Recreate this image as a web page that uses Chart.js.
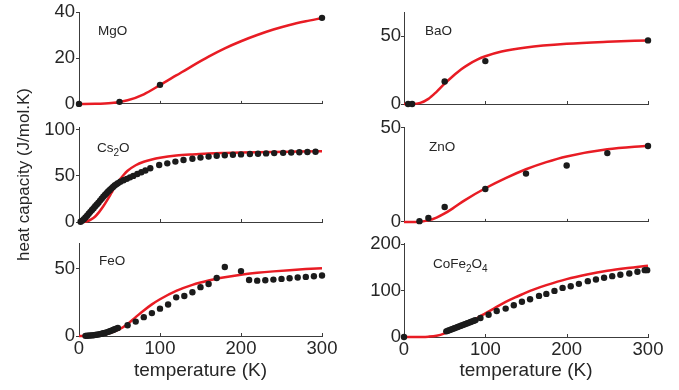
<!DOCTYPE html>
<html lang="en">
<head>
<meta charset="UTF-8">
<title>Heat capacity of oxides</title>
<script src="https://cdn.jsdelivr.net/npm/chart.js"></script>
<style>
  body { margin: 0; background: #fff; }
  #wrap { position: relative; width: 679px; height: 390px; overflow: hidden; }
  #wrap canvas { position: absolute; }
</style>
</head>
<body>
<div id="wrap">
  <canvas id="c-mgo" width="340" height="116" style="left:0;top:0"></canvas>
  <canvas id="c-bao" width="339" height="116" style="left:340px;top:0"></canvas>
  <canvas id="c-zno" width="339" height="118" style="left:340px;top:115px"></canvas>
  <canvas id="c-feo" width="340" height="159" style="left:0;top:231px"></canvas>
  <canvas id="c-cofe" width="339" height="159" style="left:340px;top:231px"></canvas>
  <canvas id="c-cs2o" width="340" height="240" style="left:0;top:60px"></canvas>
</div>
<script>
// values: T in K, heat capacity in J/mol.K
const tempTicks = [0, 100, 200, 300];

const mgoT = [0, 50, 100, 300];
const mgoCp = [0, 0.9, 8.3, 37.5];
const mgoFitT = [0, 20, 40, 60, 80, 100, 120, 140, 160, 180, 200, 220, 240, 260, 280, 300];
const mgoFit = [0, 0.05, 0.4, 1.6, 4.2, 8.2, 12.4, 16.6, 20.6, 24.2, 27.3, 30.0, 32.4, 34.4, 36.0, 37.4];
const mgoTicks = [0, 20, 40];

const baoT = [5, 10, 50, 100, 300];
const baoCp = [0, 0, 16.6, 31.7, 47];
const baoFitT = [0, 10, 20, 30, 40, 50, 60, 70, 80, 90, 100, 120, 150, 200, 250, 300];
const baoFit = [0, 0.05, 0.8, 3.8, 9, 15, 20.5, 25.5, 29.5, 32.8, 35.3, 38.8, 41.8, 44.5, 46, 47];
const baoTicks = [0, 50];

const cs2oT = [2, 4, 6, 8, 10, 12, 14, 16, 18, 20, 22, 24, 26, 28, 30, 32, 34, 36, 38, 40, 42, 44, 46, 48,
  51, 55, 59, 63, 67, 72, 77, 82, 88,
  99, 109, 119, 129, 140, 150, 160, 170, 180, 190, 200, 211, 221, 231, 241, 252, 262, 272, 282, 292];
const cs2oCp = [0.3, 1.5, 3, 4.8, 6.8, 9, 11, 13, 15, 17, 19, 21, 23.2, 25.3, 27.3, 29.3, 31.2, 33, 34.8, 36.5, 38, 39.5, 40.8, 42,
  43.6, 45.2, 46.8, 48.4, 50, 52, 54, 55.8, 58.2,
  61.8, 63.6, 65.5, 67.3, 68.6, 69.8, 70.9, 71.8, 72.4, 72.9, 73.3, 73.7, 74.0, 74.4, 74.7, 75.0, 75.3, 75.6, 75.9, 76.2];
const cs2oFitT = [0, 5, 10, 15, 20, 25, 30, 35, 40, 45, 50, 55, 60, 70, 80, 90, 100, 120, 140, 160, 180, 200, 240, 270, 300];
const cs2oFit = [0, 0.1, 0.8, 2.8, 6, 11, 17, 24, 31.5, 39, 45.5, 51, 55.5, 61.5, 65.3, 67.8, 69.6, 72, 73.3, 74.2, 74.8, 75.3, 76, 76.4, 76.8];
const cs2oTicks = [0, 50, 100];

const znoT = [19, 30, 50, 100, 150, 200, 250, 300];
const znoCp = [0.4, 2.1, 7.9, 17.5, 25.7, 30, 36.6, 40.4];
const znoFitT = [0, 10, 20, 30, 40, 50, 60, 75, 100, 125, 150, 175, 200, 250, 300];
const znoFit = [0, 0, 0.1, 0.8, 2.3, 4.5, 7.2, 11.6, 17.9, 23.3, 28.0, 31.8, 34.8, 38.6, 40.5];
const znoTicks = [0, 50];

const feoT = [8, 10, 12, 14, 16, 18, 20, 22, 24, 26, 28, 30, 32, 34, 36, 38, 40, 42, 44, 46, 48,
  60, 70, 80, 90, 100, 110, 120, 130, 140, 150, 160, 170, 180, 200, 210, 220, 230, 240, 250, 260, 270, 280, 290, 300];
const feoCp = [0.1, 0.2, 0.3, 0.4, 0.5, 0.6, 0.8, 1.0, 1.2, 1.4, 1.7, 2.0, 2.3, 2.7, 3.1, 3.5, 4.0, 4.5, 5.0, 5.5, 6.0,
  8, 10.7, 14, 17, 20.3, 23.4, 28.7, 29.7, 32.5, 36.3, 38.6, 43.1, 51.3, 48.2, 41.6, 41.1, 41.4, 41.9, 42.4, 42.9, 43.4, 43.9, 44.4, 44.9];
const feoFitT = [0, 10, 20, 30, 40, 50, 60, 70, 80, 90, 100, 120, 140, 160, 180, 200, 220, 240, 260, 280, 300];
const feoFit = [0, 0.05, 0.3, 1, 2.5, 5, 9, 14, 19, 23.5, 27.3, 33.5, 38, 41.2, 43.6, 45.5, 46.9, 48, 48.9, 49.7, 50.3];
const feoTicks = [0, 50];

const cofeT = [0, 52, 54, 56, 58, 60, 62, 64, 66, 68, 70, 72, 74, 76, 78, 80, 82, 84, 86, 88,
  94, 104, 114, 125, 135, 145, 155, 166, 175, 185, 195, 205, 215, 226, 236, 246, 256, 266, 277, 287, 296, 299];
const cofeCp = [0, 12.2, 13.5, 14.9, 16.2, 17.6, 18.9, 20.3, 21.6, 23.0, 24.3, 25.7, 27.0, 28.4, 29.7, 31.1, 32.4, 33.8, 35.1, 36.5,
  41, 48.2, 56, 61.3, 68.5, 76, 81.6, 88.8, 93.1, 99.6, 106, 109.7, 114.8, 120.6, 124.2, 127.8, 131.4, 134.3, 137.2, 140.8, 144.4, 144.4];
const cofeFitT = [0, 20, 30, 40, 50, 60, 70, 80, 90, 100, 110, 120, 130, 140, 150, 160, 175, 200, 225, 250, 275, 300];
const cofeFit = [0, 0.2, 0.8, 2.8, 8, 16, 24, 32, 41, 51, 61, 71, 80, 88, 96, 103, 112, 125, 135, 143, 149, 154];
const cofeTicks = [0, 100, 200];

const RED = 'rgb(232, 28, 36)';
const DOT = '#1b1b1b';
const AXIS = '#3c3c3c';
const TEXT = '#262626';
const FONT = '"Liberation Sans", Arial, Helvetica, sans-serif';

Chart.defaults.font.family = FONT;
Chart.defaults.color = TEXT;

const toXY = (xs, ys) => xs.map((x, i) => ({x: x, y: ys[i]}));

// compound name inside the axes, with subscripts, plus small inward x ticks
const panelLabel = {
  id: 'panelLabel',
  afterDraw(chart, args, opts) {
    const {ctx, chartArea} = chart;
    const xs = chart.scales.x;
    ctx.save();
    ctx.strokeStyle = AXIS;
    ctx.lineWidth = 1;
    tempTicks.slice(1).forEach(v => {
      const px = Math.round(xs.getPixelForValue(v)) + 0.5;
      ctx.beginPath();
      ctx.moveTo(px, chartArea.bottom);
      ctx.lineTo(px, chartArea.bottom - 3);
      ctx.stroke();
    });
    let x = chartArea.left + opts.dx;
    const y = chartArea.top + opts.dy;
    ctx.fillStyle = TEXT;
    ctx.textBaseline = 'middle';
    ctx.textAlign = 'left';
    opts.parts.forEach(part => {
      const sub = /^\d$/.test(part);
      ctx.font = (sub ? '10px ' : '13.5px ') + FONT;
      ctx.fillText(part, x, sub ? y + 5 : y);
      x += ctx.measureText(part).width;
    });
    ctx.restore();
  }
};

function makePanel(p) {
  new Chart(document.getElementById(p.id), {
    type: 'scatter',
    data: {
      datasets: [
        {
          data: toXY(p.t, p.cp),
          backgroundColor: DOT,
          borderColor: DOT,
          pointRadius: 3.2,
          pointBorderWidth: 0,
          clip: false
        },
        {
          data: toXY(p.fitT, p.fit),
          showLine: true,
          borderColor: RED,
          borderWidth: 2.5,
          pointRadius: 0,
          cubicInterpolationMode: 'monotone',
          clip: false
        }
      ]
    },
    options: {
      responsive: false,
      animation: false,
      events: [],
      layout: { padding: { top: p.padTop, right: p.padRight, left: 0, bottom: 0 } },
      plugins: {
        legend: { display: false },
        tooltip: { enabled: false },
        panelLabel: { parts: p.label, dx: p.dx, dy: p.dy }
      },
      scales: {
        x: {
          type: 'linear',
          min: 0,
          max: 300,
          grid: { display: false, drawTicks: false },
          border: { color: AXIS, width: 1 },
          afterBuildTicks: axis => { axis.ticks = tempTicks.map(v => ({value: v})); },
          ticks: { display: p.bottom, font: { size: 18.5 }, color: TEXT, padding: 2, maxRotation: 0 },
          title: {
            display: p.bottom,
            text: 'temperature (K)',
            font: { size: 19 },
            color: TEXT,
            padding: { top: 0, bottom: 8 }
          },
          afterFit: s => { s.height = p.xh; }
        },
        y: {
          type: 'linear',
          min: 0,
          max: p.ymax,
          grid: { display: true, drawOnChartArea: false, drawTicks: true, tickLength: 3, color: AXIS },
          border: { color: AXIS, width: 1 },
          afterBuildTicks: axis => { axis.ticks = p.yTicks.map(v => ({value: v})); },
          ticks: { font: { size: 18.5 }, color: TEXT, padding: p.yPad },
          title: {
            display: !!p.yTitle,
            text: p.yTitle || '',
            font: { size: 17 },
            color: TEXT,
            padding: { top: 14, bottom: 0 }
          },
          afterFit: s => { s.width = p.yw; }
        }
      }
    },
    plugins: [panelLabel]
  });
}

// left column: y axis at x=79, right column: y axis at x=404
makePanel({ id: 'c-mgo', t: mgoT, cp: mgoCp, fitT: mgoFitT, fit: mgoFit, ymax: 40, yTicks: mgoTicks,
  label: ['MgO'], dx: 19, dy: 19, padTop: 12, padRight: 18, yw: 79, yPad: 1, xh: 12, bottom: false });
makePanel({ id: 'c-bao', t: baoT, cp: baoCp, fitT: baoFitT, fit: baoFit, ymax: 68, yTicks: baoTicks,
  label: ['BaO'], dx: 21, dy: 19, padTop: 12, padRight: 31, yw: 64, yPad: 0, xh: 12, bottom: false });
makePanel({ id: 'c-cs2o', t: cs2oT, cp: cs2oCp, fitT: cs2oFitT, fit: cs2oFit, ymax: 103, yTicks: cs2oTicks,
  label: ['Cs', '2', 'O'], dx: 18, dy: 21, padTop: 67, padRight: 18, yw: 79, yPad: 1, xh: 78, bottom: false,
  yTitle: 'heat capacity (J/mol.K)' });
makePanel({ id: 'c-zno', t: znoT, cp: znoCp, fitT: znoFitT, fit: znoFit, ymax: 50.5, yTicks: znoTicks,
  label: ['ZnO'], dx: 25, dy: 20, padTop: 12, padRight: 31, yw: 64, yPad: 0, xh: 11, bottom: false });
makePanel({ id: 'c-feo', t: feoT, cp: feoCp, fitT: feoFitT, fit: feoFit, ymax: 69, yTicks: feoTicks,
  label: ['FeO'], dx: 20, dy: 18, padTop: 12, padRight: 18, yw: 79, yPad: 1, xh: 54, bottom: true });
makePanel({ id: 'c-cofe', t: cofeT, cp: cofeCp, fitT: cofeFitT, fit: cofeFit, ymax: 203, yTicks: cofeTicks,
  label: ['CoFe', '2', 'O', '4'], dx: 29, dy: 21, padTop: 12, padRight: 31, yw: 64, yPad: 0, xh: 53, bottom: true });
</script>
</body>
</html>
